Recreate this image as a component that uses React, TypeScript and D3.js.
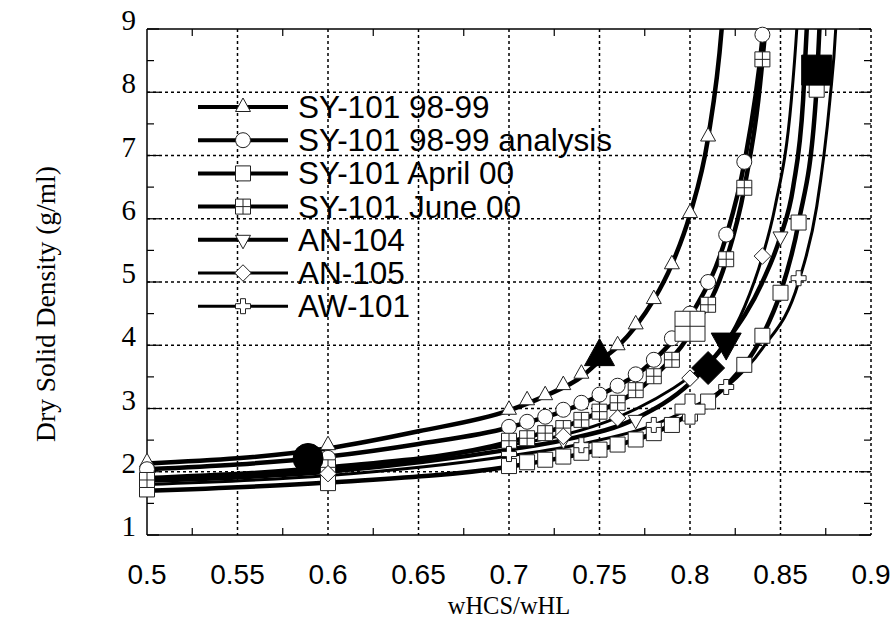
import React, { useEffect, useRef } from 'react';
import * as d3 from 'd3';

// axis ticks
const xTicks = [0.5, 0.55, 0.6, 0.65, 0.7, 0.75, 0.8, 0.85, 0.9];
const xMinorTicks = [0.525, 0.575, 0.625, 0.675, 0.725, 0.775, 0.825, 0.875];
const yTicks = [1, 2, 3, 4, 5, 6, 7, 8, 9];
const yMinorTicks = [1.5, 2.5, 3.5, 4.5, 5.5, 6.5, 7.5, 8.5];

// SY-101 98-99 (triangles)
const sy98Points = [
  [0.5, 2.15], [0.6, 2.42], [0.7, 2.98], [0.71, 3.13], [0.72, 3.21], [0.73, 3.37],
  [0.74, 3.55], [0.76, 4.0], [0.77, 4.33], [0.78, 4.73], [0.79, 5.28], [0.8, 6.09], [0.81, 7.3],
];
const sy98Curve = [
  [0.5, 2.13], [0.6, 2.37], [0.65, 2.64], [0.7, 2.97], [0.72, 3.2], [0.74, 3.5], [0.75, 3.75],
  [0.76, 3.98], [0.77, 4.3], [0.78, 4.72], [0.79, 5.28], [0.8, 6.07], [0.81, 7.28], [0.8175, 9], [0.82, 10],
];
const sy98Big = [0.75, 3.82];

// SY-101 98-99 analysis (circles)
const syAnaPoints = [
  [0.5, 2.04], [0.6, 2.22], [0.7, 2.71], [0.71, 2.79], [0.72, 2.87], [0.73, 2.98], [0.74, 3.09],
  [0.75, 3.22], [0.76, 3.36], [0.77, 3.54], [0.78, 3.77], [0.79, 4.11], [0.8, 4.5], [0.81, 5.0],
  [0.82, 5.75], [0.83, 6.9], [0.84, 8.91],
];
const syAnaCurve = [
  [0.5, 2.04], [0.6, 2.24], [0.65, 2.44], [0.7, 2.7], [0.75, 3.21], [0.78, 3.76], [0.8, 4.45],
  [0.82, 5.72], [0.83, 6.88], [0.84, 8.85], [0.8405, 9], [0.842, 10],
];
const syAnaBig = [0.589, 2.21];

// SY-101 April 00 (squares)
const syAprPoints = [
  [0.5, 1.72], [0.6, 1.82], [0.7, 2.09], [0.71, 2.15], [0.72, 2.19], [0.73, 2.24], [0.74, 2.3],
  [0.75, 2.35], [0.76, 2.43], [0.77, 2.51], [0.78, 2.61], [0.79, 2.74], [0.8, 2.92], [0.81, 3.11],
  [0.83, 3.69], [0.84, 4.15], [0.85, 4.83], [0.86, 5.94], [0.87, 8.04],
];
const syAprCurve = [
  [0.5, 1.7], [0.6, 1.83], [0.7, 2.08], [0.75, 2.35], [0.78, 2.61], [0.8, 2.92], [0.82, 3.36],
  [0.84, 4.15], [0.85, 4.83], [0.86, 5.94], [0.8695, 7.88], [0.8715, 9], [0.873, 10],
];
const syAprBig = [0.87, 8.35];

// SY-101 June 00 (crossed squares)
const syJunPoints = [
  [0.5, 1.87], [0.6, 2.07], [0.7, 2.49], [0.71, 2.53], [0.72, 2.61], [0.73, 2.69], [0.74, 2.82],
  [0.75, 2.95], [0.76, 3.09], [0.77, 3.29], [0.78, 3.51], [0.79, 3.77], [0.81, 4.64], [0.82, 5.36],
  [0.83, 6.49], [0.84, 8.52],
];
const syJunCurve = [
  [0.5, 1.9], [0.6, 2.07], [0.7, 2.47], [0.75, 2.95], [0.78, 3.5], [0.8, 4.18], [0.82, 5.34],
  [0.83, 6.48], [0.84, 8.5], [0.8415, 9], [0.843, 10],
];
const syJunBig = [0.8, 4.3];

// AN-104 (down triangles)
const an104Points = [[0.73, 2.5], [0.77, 2.82], [0.85, 5.72]];
const an104Curve = [
  [0.5, 1.86], [0.6, 2.0], [0.7, 2.35], [0.73, 2.5], [0.77, 2.84], [0.8, 3.4], [0.82, 4.05],
  [0.84, 5.0], [0.85, 5.72], [0.857, 6.5], [0.8625, 7.88], [0.8645, 9], [0.866, 10],
];
const an104Big = [0.82, 4.05];

// AN-105 (diamonds)
const an105Points = [[0.6, 1.97], [0.73, 2.56], [0.76, 2.85], [0.8, 3.48], [0.84, 5.41]];
const an105Curve = [
  [0.5, 1.88], [0.6, 2.02], [0.7, 2.42], [0.73, 2.58], [0.76, 2.86], [0.8, 3.5], [0.81, 3.72],
  [0.82, 4.05], [0.83, 4.6], [0.84, 5.4], [0.847, 6.19], [0.856, 7.88], [0.859, 9], [0.861, 10],
];
const an105Big = [0.81, 3.64];

// AW-101 (crosses)
const aw101Points = [[0.7, 2.28], [0.74, 2.42], [0.78, 2.74], [0.82, 3.34], [0.86, 5.06]];
const aw101Curve = [
  [0.5, 1.8], [0.6, 1.94], [0.7, 2.25], [0.74, 2.44], [0.78, 2.74], [0.8, 3.0], [0.82, 3.34],
  [0.84, 3.95], [0.86, 5.0], [0.87, 6.19], [0.8773, 7.88], [0.8805, 9], [0.882, 10],
];
const aw101Big = [0.8, 2.99];

const seriesNames = [
  'SY-101 98-99', 'SY-101 98-99 analysis', 'SY-101 April 00', 'SY-101 June 00',
  'AN-104', 'AN-105', 'AW-101',
];

const series = [
  { points: sy98Points, curve: sy98Curve, big: sy98Big, shape: 'tri', width: 4.5, bigFill: true },
  { points: syAnaPoints, curve: syAnaCurve, big: syAnaBig, shape: 'circle', width: 4.5, bigFill: true },
  { points: syAprPoints, curve: syAprCurve, big: syAprBig, shape: 'square', width: 4.5, bigFill: true },
  { points: syJunPoints, curve: syJunCurve, big: syJunBig, shape: 'xsquare', width: 4.5, bigFill: false },
  { points: an104Points, curve: an104Curve, big: an104Big, shape: 'dtri', width: 4.5, bigFill: true },
  { points: an105Points, curve: an105Curve, big: an105Big, shape: 'diamond', width: 3, bigFill: true },
  { points: aw101Points, curve: aw101Curve, big: aw101Big, shape: 'cross', width: 3, bigFill: false },
];

const drawSymbol = (g, shape, cx, cy, s, filled) => {
  const fill = filled ? '#000' : '#fff';
  const stroke = filled ? '#000' : '#222';
  const h = s / 2;
  const node = g.append('g').attr('transform', `translate(${cx},${cy})`);
  let d = '';
  if (shape === 'tri') {
    d = `M0,${-s * 0.6}L${h},${s * 0.3}L${-h},${s * 0.3}Z`;
  } else if (shape === 'dtri') {
    d = `M0,${s * 0.6}L${h},${-s * 0.3}L${-h},${-s * 0.3}Z`;
  } else if (shape === 'square' || shape === 'xsquare') {
    d = `M${-h},${-h}H${h}V${h}H${-h}Z`;
  } else if (shape === 'diamond') {
    const r = s * 0.55;
    d = `M0,${-r}L${r},0L0,${r}L${-r},0Z`;
  } else if (shape === 'cross') {
    const a = s / 6;
    d = `M${-a},${-h}H${a}V${-a}H${h}V${a}H${a}V${h}H${-a}V${a}H${-h}V${-a}H${-a}Z`;
  }
  if (shape === 'circle') {
    node.append('circle').attr('r', h).attr('fill', fill).attr('stroke', stroke).attr('stroke-width', 1);
  } else {
    node.append('path').attr('d', d).attr('fill', fill).attr('stroke', stroke).attr('stroke-width', 1);
  }
  if (shape === 'xsquare') {
    node.append('path')
      .attr('d', `M0,${-h}V${h}M${-h},0H${h}`)
      .attr('stroke', stroke)
      .attr('stroke-width', 1);
  }
};

const App = () => {
  const chartRef = useRef(null);

  useEffect(() => {
    const svg = d3.select(chartRef.current);
    svg.selectAll('*').remove();

    const margin = { top: 29, right: 24, bottom: 86, left: 147 };
    const width = 895 - margin.left - margin.right;
    const height = 621 - margin.top - margin.bottom;

    const x = d3.scaleLinear().domain([0.5, 0.9]).range([0, width]);
    const y = d3.scaleLinear().domain([1, 9]).range([height, 0]);

    svg.append('defs').append('clipPath').attr('id', 'plotclip')
      .append('rect').attr('x', 0).attr('y', 0).attr('width', width).attr('height', height);

    const g = svg.append('g').attr('transform', `translate(${margin.left},${margin.top})`);

    // grid
    g.append('g')
      .selectAll('line')
      .data(xTicks.slice(1))
      .join('line')
      .attr('x1', (d) => x(d)).attr('x2', (d) => x(d))
      .attr('y1', 0).attr('y2', height)
      .attr('stroke', '#000').attr('stroke-width', 1.5).attr('stroke-dasharray', '3,3');
    g.append('g')
      .selectAll('line')
      .data(yTicks.slice(1, -1))
      .join('line')
      .attr('x1', 0).attr('x2', width)
      .attr('y1', (d) => y(d)).attr('y2', (d) => y(d))
      .attr('stroke', '#000').attr('stroke-width', 1.5).attr('stroke-dasharray', '3,3');

    // frame
    g.append('line').attr('x1', 0).attr('x2', 0).attr('y1', 0).attr('y2', height).attr('stroke', '#000').attr('stroke-width', 1.5);
    g.append('line').attr('x1', 0).attr('x2', width).attr('y1', 0).attr('y2', 0).attr('stroke', '#000').attr('stroke-width', 1.5);
    g.append('line').attr('x1', 0).attr('x2', width).attr('y1', height).attr('y2', height).attr('stroke', '#000').attr('stroke-width', 1.5);

    // ticks
    const tickG = g.append('g').attr('stroke', '#000').attr('stroke-width', 1.2);
    xMinorTicks.forEach((t) => {
      tickG.append('line').attr('x1', x(t)).attr('x2', x(t)).attr('y1', height).attr('y2', height - 7);
      tickG.append('line').attr('x1', x(t)).attr('x2', x(t)).attr('y1', 0).attr('y2', 7);
    });
    yMinorTicks.forEach((t) => {
      tickG.append('line').attr('x1', 0).attr('x2', 7).attr('y1', y(t)).attr('y2', y(t));
      tickG.append('line').attr('x1', width).attr('x2', width - 7).attr('y1', y(t)).attr('y2', y(t));
    });
    yTicks.forEach((t) => {
      tickG.append('line').attr('x1', 0).attr('x2', 12).attr('y1', y(t)).attr('y2', y(t));
      tickG.append('line').attr('x1', width).attr('x2', width - 12).attr('y1', y(t)).attr('y2', y(t));
    });

    // tick labels
    g.append('g')
      .selectAll('text')
      .data(yTicks)
      .join('text')
      .attr('x', -11)
      .attr('y', (d) => y(d) + 1)
      .attr('text-anchor', 'end')
      .attr('font-family', '"Liberation Serif", "Times New Roman", serif')
      .attr('font-size', 29)
      .text((d) => d);
    g.append('g')
      .selectAll('text')
      .data(xTicks)
      .join('text')
      .attr('x', (d) => x(d))
      .attr('y', height + 49)
      .attr('text-anchor', 'middle')
      .attr('font-family', '"Liberation Sans", Arial, sans-serif')
      .attr('font-size', 28)
      .text((d) => d);

    // axis titles
    svg.append('text')
      .attr('x', margin.left + width / 2)
      .attr('y', 614)
      .attr('text-anchor', 'middle')
      .attr('font-family', '"Liberation Serif", "Times New Roman", serif')
      .attr('font-size', 24.5)
      .text('wHCS/wHL');
    svg.append('text')
      .attr('transform', 'translate(55,304) rotate(-90)')
      .attr('text-anchor', 'middle')
      .attr('font-family', '"Liberation Serif", "Times New Roman", serif')
      .attr('font-size', 27.5)
      .text('Dry Solid Density (g/ml)');

    // curves
    const line = d3.line().curve(d3.curveMonotoneX).x((d) => x(d[0])).y((d) => y(d[1]));
    const plot = g.append('g').attr('clip-path', 'url(#plotclip)');
    series.forEach((s) => {
      plot.append('path')
        .datum(s.curve)
        .attr('d', line)
        .attr('fill', 'none')
        .attr('stroke', '#000')
        .attr('stroke-width', s.width);
    });

    // markers
    const marks = g.append('g');
    series.forEach((s) => {
      s.points.forEach((p) => drawSymbol(marks, s.shape, x(p[0]), y(p[1]), 15, false));
    });
    series.forEach((s) => {
      drawSymbol(marks, s.shape, x(s.big[0]), y(s.big[1]), 30, s.bigFill);
    });

    // legend
    const legend = svg.append('g');
    seriesNames.forEach((name, i) => {
      const ly = 107 + i * 33.2;
      legend.append('line')
        .attr('x1', 198).attr('x2', 288)
        .attr('y1', ly).attr('y2', ly)
        .attr('stroke', '#000')
        .attr('stroke-width', series[i].width === 3 ? 3 : 4);
      drawSymbol(legend, series[i].shape, 243, ly, 15, false);
      legend.append('text')
        .attr('x', 298)
        .attr('y', ly + 11)
        .attr('font-family', '"Liberation Sans", Arial, sans-serif')
        .attr('font-size', 31.5)
        .text(name);
    });
  }, []);

  return (
    <div style={{ position: 'absolute', left: 0, top: 0 }}>
      <svg ref={chartRef} width={895} height={621} style={{ display: 'block', background: '#fff' }}></svg>
    </div>
  );
};

export default App;
